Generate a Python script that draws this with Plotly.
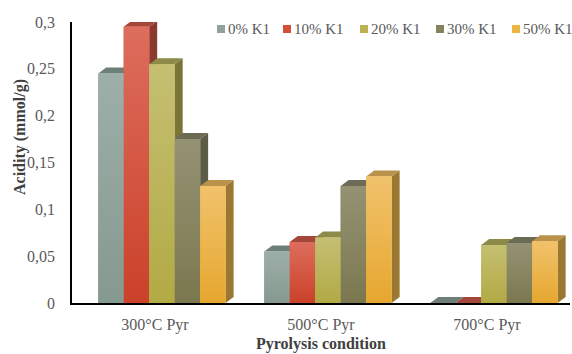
import plotly.graph_objects as go

# ---------------- data ----------------
categories = ["300°C Pyr", "500°C Pyr", "700°C Pyr"]
series_names = ["0% K1", "10% K1", "20% K1", "30% K1", "50% K1"]
acid_0 = [0.245, 0.055, 0.0]
acid_10 = [0.295, 0.065, 0.0]
acid_20 = [0.255, 0.070, 0.062]
acid_30 = [0.175, 0.125, 0.064]
acid_50 = [0.125, 0.135, 0.066]
y_tick_vals = [0, 0.05, 0.1, 0.15, 0.2, 0.25, 0.3]
y_tick_text = ["0", "0,05", "0,1", "0,15", "0,2", "0,25", "0,3"]

series_values = [acid_0, acid_10, acid_20, acid_30, acid_50]

# ---------------- styles ----------------
front_col = ["#8FA39B", "#D4503B", "#BAB252", "#858260", "#EDB444"]
front_top = ["#9DAFA9", "#DD6D5D", "#C5BF73", "#959274", "#F1C26C"]
front_bot = ["#86998F", "#CB4129", "#B2AA44", "#7B784F", "#E6A72F"]
top_col = ["#6E7F78", "#A4473A", "#8E8A48", "#6C6B56", "#BA924C"]
side_col = ["#5E6E68", "#8C3A2E", "#797536", "#5C5C46", "#9A7832"]

FONT = "Liberation Serif, Times New Roman, serif"
TXT = "#595959"

W, H = 572, 354
ML, MR, MT, MB = 72, 2, 22, 51
PW, PH = W - ML - MR, H - MT - MB
XR = [-0.5, 2.5]
YR = [0, 0.3]
DX = 8 * (XR[1] - XR[0]) / PW      # depth offset (8 px right)
DY = 6 * (YR[1] - YR[0]) / PH      # depth offset (6 px up)
BAR_W = 0.1535
START = -0.342

fig = go.Figure()
shapes = []
xs = list(range(len(categories)))

for i, (name, vals) in enumerate(zip(series_names, series_values)):
    off = START + i * BAR_W
    fig.add_trace(go.Bar(
        x=xs, y=vals, name=name, offset=off, width=BAR_W,
        marker=dict(color=front_col[i], line=dict(width=0)),
        showlegend=False,
    ))
    for c, v in zip(xs, vals):
        x0 = c + off
        x1 = x0 + BAR_W
        if v > 0:
            fig.add_trace(go.Scatter(
                x=[x0, x1, x1, x0, x0], y=[0, 0, v, v, 0],
                mode="lines", line=dict(width=0), fill="toself",
                fillgradient=dict(type="vertical",
                                  colorscale=[[0, front_bot[i]], [1, front_top[i]]]),
                hoverinfo="skip", showlegend=False,
            ))

# depth faces (drawn below traces, in bar order for correct overlap)
for c in xs:
    for i, vals in enumerate(series_values):
        v = vals[c]
        x0 = c + START + i * BAR_W
        x1 = x0 + BAR_W
        shapes.append(dict(
            type="path", layer="below", xref="x", yref="y",
            path=f"M{x1},0 L{x1+DX},{DY} L{x1+DX},{v+DY} L{x1},{v} Z",
            fillcolor=side_col[i], line=dict(width=0)))
        shapes.append(dict(
            type="path", layer="below", xref="x", yref="y",
            path=f"M{x0},{v} L{x1},{v} L{x1+DX},{v+DY} L{x0+DX},{v+DY} Z",
            fillcolor=top_col[i], line=dict(width=0)))

# manual legend (squares + text)
legend_px = [217, 283, 360, 436, 512]
leg_y_px = 29
annotations = []
for i, name in enumerate(series_names):
    lx = legend_px[i]
    shapes.append(dict(
        type="rect", xref="paper", yref="paper",
        x0=(lx - ML) / PW, x1=(lx + 8 - ML) / PW,
        y0=(H - MB - (leg_y_px + 4)) / PH, y1=(H - MB - (leg_y_px - 4)) / PH,
        fillcolor=front_col[i], line=dict(width=0)))
    annotations.append(dict(
        text=name, xref="paper", yref="paper",
        x=(lx + 9 - ML) / PW, y=(H - MB - leg_y_px) / PH,
        xanchor="left", yanchor="middle", showarrow=False,
        font=dict(family=FONT, size=15, color=TXT)))

annotations.append(dict(
    text="<b>Acidity (mmol/g)</b>", xref="paper", yref="paper",
    x=(20 - ML) / PW, y=(H - MB - 137) / PH, textangle=-90,
    xanchor="center", yanchor="middle", showarrow=False,
    font=dict(family=FONT, size=16, color="#404040")))

fig.update_layout(
    width=W, height=H,
    margin=dict(l=ML, r=MR, t=MT, b=MB),
    paper_bgcolor="white", plot_bgcolor="white",
    barmode="overlay",
    shapes=shapes, annotations=annotations,
    font=dict(family=FONT, size=16, color=TXT),
    xaxis=dict(
        range=XR, tickvals=xs, ticktext=categories,
        showgrid=False, zeroline=False, showline=True,
        linecolor="black", linewidth=1.5, ticks="",
        ticklabelstandoff=6,
        tickfont=dict(family=FONT, size=16, color=TXT),
        title=dict(text="<b>Pyrolysis condition</b>", standoff=5,
                   font=dict(family=FONT, size=16, color="#404040")),
        automargin=False, fixedrange=True,
    ),
    yaxis=dict(
        range=YR, tickvals=y_tick_vals, ticktext=y_tick_text,
        showgrid=False, zeroline=False, showline=True,
        linecolor="black", linewidth=1.5, ticks="",
        ticklabelstandoff=12,
        tickfont=dict(family=FONT, size=16, color=TXT),
        automargin=False, fixedrange=True,
    ),
)

fig.write_html("out.html", config={"displayModeBar": False},
               post_script="document.body.style.margin='0px';")
